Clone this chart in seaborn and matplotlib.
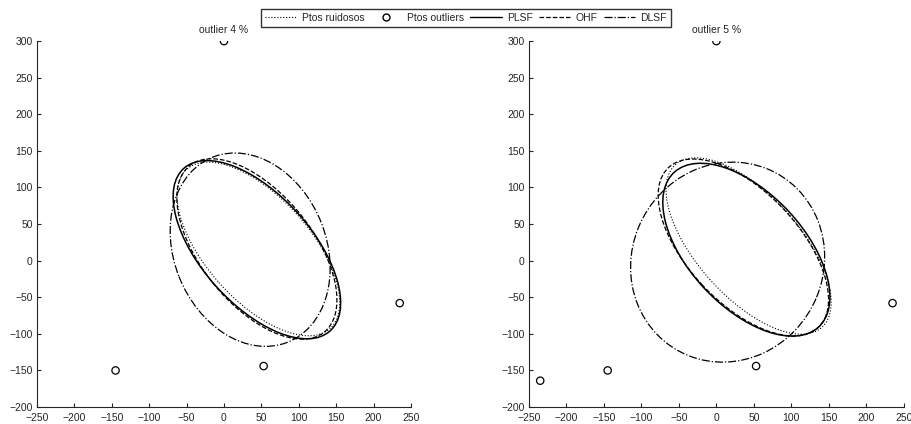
import numpy as np
import pandas as pd
import matplotlib
matplotlib.use("Agg")
import matplotlib.pyplot as plt
from matplotlib.patches import Ellipse
from matplotlib.lines import Line2D
import seaborn as sns

# outliers in each panel
out4_x = [0, -145, 53, 235]
out4_y = [300, -150, -144, -58]
out5_x = [0, -145, 53, 235, -235]
out5_y = [300, -150, -144, -58, -164]

# fitted ellipses: center, semi-axes, rotation (deg)
fits = ["Ptos ruidosos", "PLSF", "OHF", "DLSF"]
e4_cx = [46, 44, 44, 35]
e4_cy = [16, 15, 16, 15]
e4_a = [145, 148, 145, 136]
e4_b = [70, 74, 75, 102]
e4_ang = [-49, -49, -52, -69]

e5_cx = [43, 40, 36, 15]
e5_cy = [20, 15, 18, -2]
e5_a = [148, 143, 148, 138]
e5_b = [69, 77, 75, 128]
e5_ang = [-49, -48, -48, 68]

styles = {"Ptos ruidosos": (":", 0.8), "PLSF": ("-", 1.1),
          "OHF": ("--", 0.9), "DLSF": ("-.", 0.9)}

sns.set_style("ticks")
plt.rcParams["font.family"] = ["Liberation Sans", "DejaVu Sans"]
plt.rcParams["xtick.direction"] = "in"
plt.rcParams["ytick.direction"] = "in"

fig = plt.figure(figsize=(9.12, 4.24), dpi=100)
ax1 = fig.add_axes([0.0406, 0.040, 0.410, 0.863])
ax2 = fig.add_axes([0.5800, 0.040, 0.411, 0.863])

panels = [(ax1, "outlier 4 %", out4_x, out4_y, e4_cx, e4_cy, e4_a, e4_b, e4_ang),
          (ax2, "outlier 5 %", out5_x, out5_y, e5_cx, e5_cy, e5_a, e5_b, e5_ang)]

for ax, title, ox, oy, cx, cy, a, b, ang in panels:
    for i, name in enumerate(fits):
        ls, lw = styles[name]
        ax.add_patch(Ellipse((cx[i], cy[i]), 2 * a[i], 2 * b[i], angle=ang[i],
                             fill=False, edgecolor="black", linestyle=ls, linewidth=lw))
    df = pd.DataFrame({"x": ox, "y": oy})
    sns.scatterplot(data=df, x="x", y="y", ax=ax, marker="o", s=28,
                    facecolor="none", edgecolor="black", linewidth=0.9)
    ax.set_xlim(-250, 250)
    ax.set_ylim(-200, 300)
    ax.set_xticks(np.arange(-250, 251, 50))
    ax.set_yticks(np.arange(-200, 301, 50))
    ax.set_xlabel("")
    ax.set_ylabel("")
    ax.set_title(title, fontsize=7.5, pad=6)
    ax.tick_params(labelsize=7.5, length=3, width=0.8)
    ax.tick_params(axis="x", pad=4)
    ax.tick_params(axis="y", pad=3)
    sns.despine(ax=ax)
    for sp in ax.spines.values():
        sp.set_linewidth(0.8)

handles = [Line2D([], [], color="black", linestyle=":", linewidth=0.8),
           Line2D([], [], color="black", linestyle="none", marker="o",
                  markerfacecolor="none", markersize=5),
           Line2D([], [], color="black", linestyle="-", linewidth=1.0),
           Line2D([], [], color="black", linestyle="--", linewidth=0.9),
           Line2D([], [], color="black", linestyle="-.", linewidth=0.9)]
labels = ["Ptos ruidosos", "Ptos outliers", "PLSF", "OHF", "DLSF"]
leg = fig.legend(handles, labels, loc="center", bbox_to_anchor=(0.511, 0.958),
                 ncol=5, fontsize=7.5, frameon=True, fancybox=False,
                 handlelength=3.0, handletextpad=0.5, columnspacing=0.6,
                 borderpad=0.4)
leg.get_frame().set_edgecolor("black")
leg.get_frame().set_linewidth(1.0)

fig.savefig("out.png", dpi=100)
